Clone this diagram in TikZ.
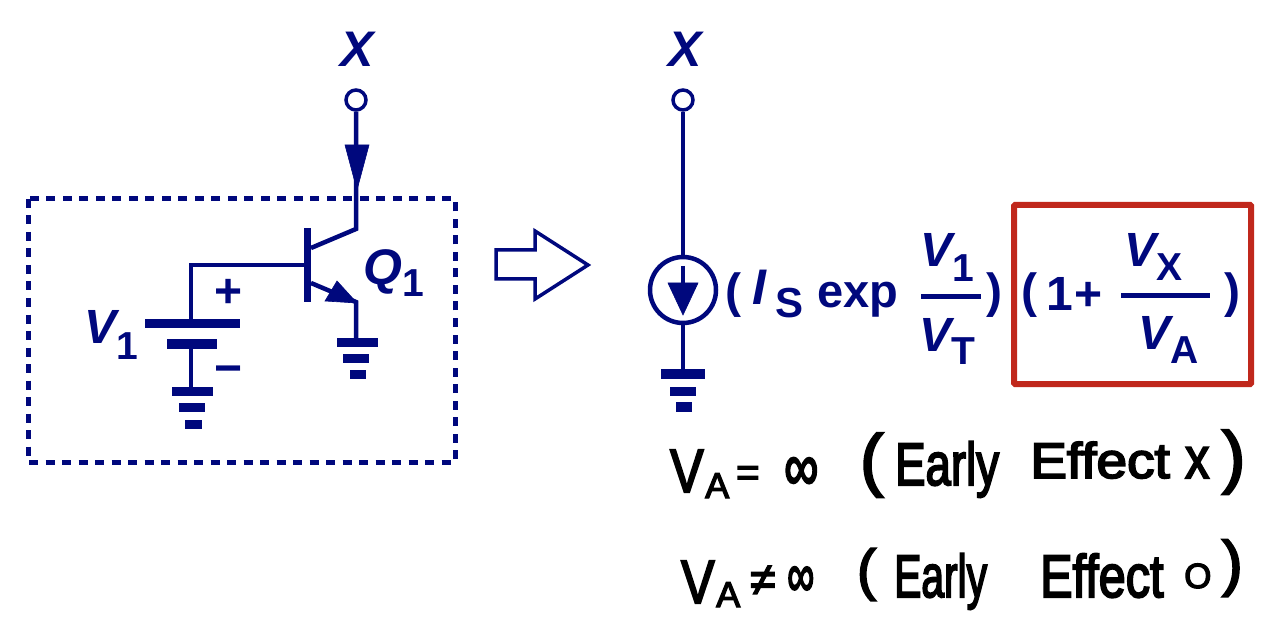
\documentclass[tikz,border=0pt]{standalone}
\usepackage{fontspec}
\setmainfont{Liberation Sans}
\newfontfamily\handfont[FakeBold=3.5]{Liberation Sans}
\definecolor{navy}{RGB}{0,8,125}
\definecolor{redbox}{RGB}{192,40,28}
\newcommand{\fsz}[1]{\fontsize{#1}{#1}\selectfont}
\tikzset{
  wire/.style={draw=navy,line width=4.5pt},
  solid bar/.style={fill=navy,draw=none},
  head/.style={fill=navy,draw=navy,line width=.6pt,line join=miter},
  term/.style={circle,draw=navy,fill=white,line width=3.5pt,minimum size=20pt,inner sep=0pt},
  lab/.style={text=navy,inner sep=0pt,anchor=base west,font=\bfseries\itshape\fsz{#1}},
  sub/.style={text=navy,inner sep=0pt,anchor=base west,font=\bfseries\fsz{#1}},
  hand/.style={text=black,inner sep=0pt,anchor=base west,font=\handfont\fsz{#1}},
  xs/.style={xscale=#1,transform shape},
  ys/.style={yscale=#1,transform shape},
}
\begin{document}
\begin{tikzpicture}[x=1pt,y=-1pt]
\useasboundingbox[fill=white] (0,0) rectangle (1282,628);

% dashed box
\draw[navy,line width=5pt,dash pattern=on 9pt off 7.5pt] (28,199) rectangle (455,462);

% left circuit
\node[term] (xa) at (356,100) {};
\node[lab=50] (xal) at (340,67) {X};
\coordinate (cbend) at (356,229);
\coordinate (ctap) at (311,248);
\coordinate (btap) at (305,265);
\coordinate (bcorner) at (191,265);
\coordinate (bplate) at (191,323);
\coordinate (nplate) at (191,344);
\coordinate (g1top) at (191,388);
\coordinate (etap) at (311,283);
\coordinate (ebend) at (356,302);
\coordinate (g2top) at (356,339);
\draw[wire] (xa) -- (cbend) -- (ctap);
\draw[wire] (btap) -- (bcorner) -- (bplate);
\draw[wire] (nplate) -- (g1top);
\draw[wire] (etap) -- (ebend) -- (g2top);
\fill[head] (345,145) -- (369,145) -- (357,190) -- cycle;
\fill[solid bar] (304,228) rectangle (311,302);
\fill[head] (337,281) -- (357,303) -- (325,301) -- cycle;
\fill[solid bar] (145,319) rectangle (240,328);
\fill[solid bar] (167,339) rectangle (217,349);
\fill[solid bar] (172,387) rectangle (213,396);
\fill[solid bar] (179,403) rectangle (205,412);
\fill[solid bar] (185,420) rectangle (202,429);
\fill[solid bar] (337,338) rectangle (378,347);
\fill[solid bar] (343,354) rectangle (369,363);
\fill[solid bar] (350,370) rectangle (366,379);
\node[sub=48,anchor=center] (plus) at (229,293) {+};
\node[sub=48,anchor=center] (minus) at (229,375) {−};
\node[lab=48] (v1) at (84,343) {V};
\node[sub=39] (v1s) at (116,359) {1};
\node[lab=50] (q1) at (363,285) {Q};
\node[sub=39] (q1s) at (402,297) {1};

% hollow arrow
\draw[navy,line width=3.5pt,fill=white,line join=miter] (496,250) -- (535,250) -- (535,231) -- (588,265) -- (535,299) -- (535,279) -- (496,279) -- cycle;

% right circuit
\node[term] (xb) at (683,100) {};
\node[lab=50] (xbl) at (668,67) {X};
\node[circle,draw=navy,fill=white,line width=4.5pt,minimum size=66pt,inner sep=0pt] (src) at (683,290) {};
\coordinate (g3top) at (683,370);
\coordinate (arrtop) at (683,266);
\coordinate (arrmid) at (683,285);
\draw[wire] (xb) -- (src);
\draw[wire] (src) -- (g3top);
\draw[wire] (arrtop) -- (arrmid);
\fill[head] (668,283) -- (698,283) -- (683,315) -- cycle;
\fill[solid bar] (661,369) rectangle (705,379);
\fill[solid bar] (670,387) rectangle (696,396);
\fill[solid bar] (676,402) rectangle (692,412);

% formula
\node[sub=48] (lp1) at (725,307) {(};
\node[lab=50] (is) at (752,305) {I};
\node[sub=42] (iss) at (775,317) {S};
\node[sub=47] (exp) at (817,308) {exp};
\node[lab=48] (fv1) at (920,267) {V};
\node[sub=39] (fv1s) at (952,282) {1};
\fill[solid bar] (921,294) rectangle (981,299);
\node[lab=48] (fvt) at (919,351) {V};
\node[sub=39] (fvts) at (951,364) {T};
\node[sub=48] (rp1) at (986,307) {)};
\draw[redbox,line width=6pt,rounded corners=1pt] (1014,205) rectangle (1251,384);
\node[sub=48] (lp2) at (1021,307) {(};
\node[sub=48] (one) at (1046,310) {1};
\node[sub=48] (plus2) at (1074,310) {+};
\node[lab=48] (fvx) at (1124,267) {V};
\node[sub=39] (fvxs) at (1156,281) {X};
\fill[solid bar] (1121,293) rectangle (1210,298);
\node[lab=48] (fva) at (1138,349) {V};
\node[sub=39] (fvas) at (1170,363) {A};
\node[sub=48] (rp2) at (1224,307) {)};

% handwriting, first line
\node[hand=61,xs=.82] (h1v) at (670,492) {V};
\node[hand=36] (h1a) at (705,498) {A};
\node[hand=40] (h1e) at (736,486) {=};
\node[hand=48,ys=1.4] (h1i) at (784,490) {∞};
\node[hand=69] (h1l) at (860,483) {(};
\node[hand=60,xs=.76] (h1w) at (895,485) {Early};
\node[hand=50,xs=1.1] (h1f) at (1030,478) {Effect};
\node[hand=58,xs=.83] (h1x) at (1185,478) {x};
\node[hand=69] (h1r) at (1222,480) {)};

% handwriting, second line
\node[hand=61,xs=.82] (h2v) at (681,603) {V};
\node[hand=36] (h2a) at (716,607) {A};
\node[hand=46] (h2n) at (750,595) {≠};
\node[hand=38,ys=1.6] (h2i) at (787,596) {∞};
\node[hand=56] (h2l) at (857,589) {(};
\node[hand=60,xs=.68] (h2w) at (894,597) {Early};
\node[hand=60,xs=.81] (h2f) at (1040,597) {Effect};
\node[hand=35] (h2o) at (1184,588) {O};
\node[hand=61] (h2r) at (1222,584) {)};
\end{tikzpicture}
\end{document}
